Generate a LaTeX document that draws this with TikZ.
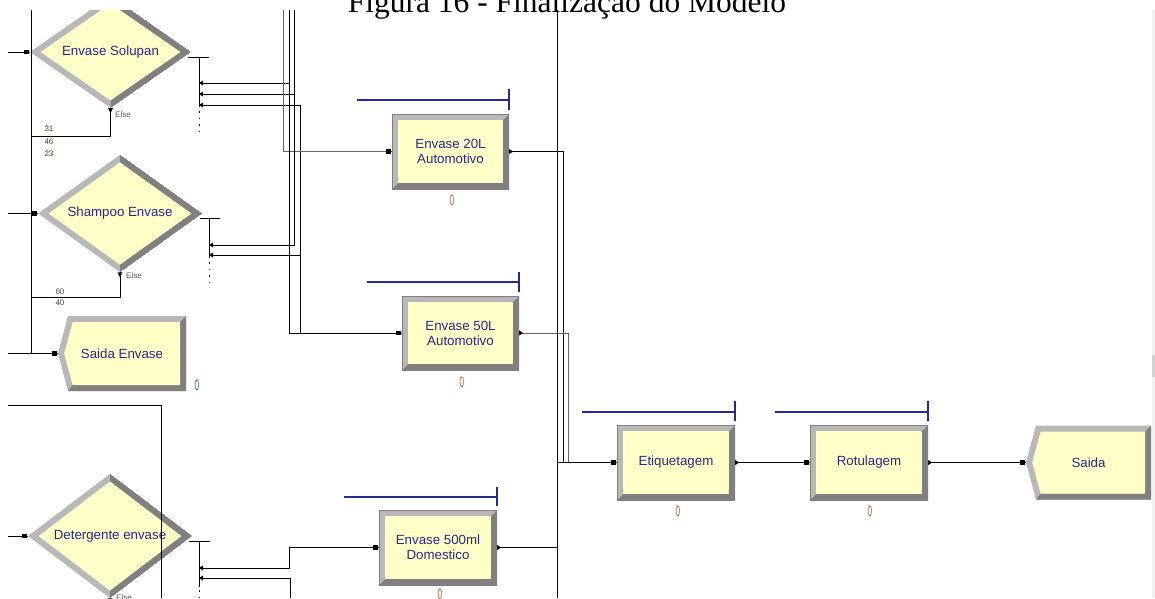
\documentclass[tikz,border=0pt]{standalone}
\usepackage{fontspec}
\setmainfont{Liberation Sans}
\newfontfamily\capfont{Liberation Serif}
\usetikzlibrary{shapes.geometric,calc}
\definecolor{boxfill}{RGB}{255,255,200}
\definecolor{bevlight}{RGB}{184,184,184}
\definecolor{bevdark}{RGB}{128,128,128}
\definecolor{labelblue}{RGB}{40,40,140}
\definecolor{queueblue}{RGB}{40,40,150}
\definecolor{cntorange}{RGB}{210,90,40}
\definecolor{cntblue}{RGB}{40,90,255}
\definecolor{wiregray}{RGB}{100,100,100}
\definecolor{smallgray}{RGB}{90,90,90}
\definecolor{numbrown}{RGB}{90,70,50}
\newcommand\arinmark[1]{\fill ([xshift=-5.5pt,yshift=-2.2pt]#1) rectangle ([xshift=-1pt,yshift=2.2pt]#1);}
\newcommand\aroutmark[1]{\fill ([yshift=2.5pt]#1) -- ([xshift=4pt]#1) -- ([yshift=-2.5pt]#1) -- cycle;}
\newcommand\arexitmark[1]{\fill ([xshift=4pt,yshift=2.5pt]#1) -- (#1) -- ([xshift=4pt,yshift=-2.5pt]#1) -- cycle;}
\tikzset{
  modlabel/.style={font=\fontsize{13.3}{15}\selectfont, text=labelblue, align=center},
  procbox/.style={rectangle, inner sep=0pt, modlabel, path picture={
    \coordinate (ppsw) at (path picture bounding box.south west);
    \coordinate (ppne) at (path picture bounding box.north east);
    \coordinate (ppnw) at (path picture bounding box.north west);
    \fill[bevdark] (ppsw) rectangle (ppne);
    \fill[bevlight] (ppsw) -- (ppnw) -- (ppne) -- ([shift={(-6pt,-6pt)}]ppne) -- ([shift={(6pt,-6pt)}]ppnw) -- ([shift={(6pt,6pt)}]ppsw) -- cycle;
    \fill[boxfill] ([shift={(6pt,6pt)}]ppsw) rectangle ([shift={(-6pt,-6pt)}]ppne);
    \draw[bevdark, line width=1.2pt] (ppsw) rectangle (ppne);
  }},
  decidebox/.style={diamond, inner sep=0pt, modlabel, path picture={
    \coordinate (ppn) at (path picture bounding box.north);
    \coordinate (pps) at (path picture bounding box.south);
    \coordinate (ppe) at (path picture bounding box.east);
    \coordinate (ppw) at (path picture bounding box.west);
    \fill[bevlight] (ppn) -- (ppe) -- (pps) -- (ppw) -- cycle;
    \fill[bevdark] (ppn) -- (ppe) -- (pps) -- cycle;
    \fill[boxfill] ([yshift=-7.5pt]ppn) -- ([xshift=-10.5pt]ppe) -- ([yshift=7.5pt]pps) -- ([xshift=10.5pt]ppw) -- cycle;
  }},
  disposebox/.style={rectangle, inner sep=0pt, modlabel, path picture={
    \coordinate (ppsw) at (path picture bounding box.south west);
    \coordinate (ppse) at (path picture bounding box.south east);
    \coordinate (ppne) at (path picture bounding box.north east);
    \coordinate (ppnw) at (path picture bounding box.north west);
    \coordinate (ppw) at (path picture bounding box.west);
    \fill[bevlight] ([xshift=10pt]ppnw) -- (ppne) -- (ppse) -- ([xshift=10pt]ppsw) -- (ppw) -- cycle;
    \fill[bevdark] (ppne) -- (ppse) -- ([xshift=10pt]ppsw) -- ([shift={(14.6pt,6pt)}]ppsw) -- ([shift={(-6pt,6pt)}]ppse) -- ([shift={(-6pt,-6pt)}]ppne) -- cycle;
    \fill[boxfill] ([shift={(14.6pt,-6pt)}]ppnw) -- ([shift={(-6pt,-6pt)}]ppne) -- ([shift={(-6pt,6pt)}]ppse) -- ([shift={(14.6pt,6pt)}]ppsw) -- ([xshift=6.2pt]ppw) -- cycle;
  }},
  wire/.style={line width=0.9pt, black},
  wireg/.style={line width=0.9pt, wiregray},
  dotwire/.style={line width=0.9pt, black, dash pattern=on 1.5pt off 5pt},
  queue/.style={line width=1.1pt, queueblue},
  counter/.style={font=\fontsize{15}{15}\selectfont, text=cntorange, inner sep=0pt},
  smalltxt/.style={font=\fontsize{8}{8}\selectfont, inner sep=0pt},
}
\begin{document}
\begin{tikzpicture}[x=1pt,y=-1pt]
\useasboundingbox (0,0) rectangle (1155,598);
\fill[white] (0,0) rectangle (1155,598);
\begin{scope}
\clip (0,10) rectangle (1155,598);
% modules
\node[decidebox, minimum width=161pt, minimum height=112pt] (sol) at (110.5,52) {Envase Solupan};
\node[decidebox, minimum width=164pt, minimum height=113pt] (sha) at (120,213.5) {Shampoo Envase};
\node[decidebox, minimum width=164pt, minimum height=114pt] (det) at (110,536) {Detergente envase};
\node[disposebox, minimum width=128pt, minimum height=75pt] (senv) at (122,353.5) {Saida Envase};
\node[procbox, minimum width=117pt, minimum height=75pt] (en20) at (450.5,151.5) {Envase 20L\\Automotivo};
\node[procbox, minimum width=117pt, minimum height=74pt] (en50) at (460.5,333) {Envase 50L\\Automotivo};
\node[procbox, minimum width=118pt, minimum height=75pt] (en500) at (438,547.5) {Envase 500ml\\Domestico};
\node[procbox, minimum width=118pt, minimum height=75pt] (et) at (676,462.5) {Etiquetagem};
\node[procbox, minimum width=118pt, minimum height=75pt] (rot) at (869,462.5) {Rotulagem};
\node[disposebox, minimum width=125pt, minimum height=74pt] (saida) at (1088.5,462.5) {Saida};
% exit points of decide modules
\coordinate (sx1) at (199,83);
\coordinate (sx2) at (199,94);
\coordinate (sx3) at (199,105);
\coordinate (hx1) at (209,245);
\coordinate (hx2) at (209,255);
\coordinate (dx1) at (199,568);
\coordinate (dx2) at (199,578);
% left bus
\draw[wire] (8,52) -- (sol.west);
\draw[wire] (31,10) -- (31,353.5);
\draw[wire] (8,353.5) -- (senv.west);
\draw[wire] (sol.south) |- (31,136);
\draw[wire] (8,213.5) -- (sha.west);
\draw[wire] (sha.south) |- (31,297);
% Solupan exits
\draw[wire] (188,57) -- (209,57);
\draw[wire] (199,57) -- (199,107);
\draw[dotwire] (199,111) -- (199,135);
\draw[wire] (sx1) -- (289,83);
\draw[wire] (sx2) -- (294,94);
\draw[wire] (sx3) -- (300,105) -- (300,333);
% bundle from above
\draw[wireg] (283,10) -- (283,151.5) -- (en20.west);
\draw[wire] (289,10) -- (289,333) -- (en50.west);
\draw[wire] (294,10) -- (294,245) -- (hx1);
% Shampoo exits
\draw[wire] (200,218) -- (220,218);
\draw[wire] (209,218) -- (209,258);
\draw[dotwire] (209,262) -- (209,285);
\draw[wire] (hx2) -- (300,255);
% to Etiquetagem
\draw[wire] (en20.east) -- (563,151.5) -- (563,462.5);
\draw[wireg] (en50.east) -- (568,333) -- (568,462.5);
\draw[wire] (557,10) -- (557,598);
\draw[wire] (557,462.5) -- (et.west);
\draw[wire] (en500.east) -- (557,547.5);
% Detergente
\draw[wire] (8,536) -- (det.west);
\draw[wire] (8,405) -- (161,405) -- (161,598);
\draw[wire] (189,541) -- (210,541);
\draw[wire] (199,541) -- (199,587);
\draw[dotwire] (199,590) -- (199,598);
\draw[wire] (dx1) -- (289,568) -- (289,547.5) -- (en500.west);
\draw[wire] (dx2) -- (290,578) -- (290,598);
% final line
\draw[wire] (et.east) -- (rot.west);
\draw[wire] (rot.east) -- (saida.west);
% markers
\arinmark{sol.west}
\arinmark{sha.west}
\arinmark{det.west}
\arinmark{senv.west}
\arinmark{en20.west}
\arinmark{en50.west}
\arinmark{en500.west}
\arinmark{et.west}
\arinmark{rot.west}
\arinmark{saida.west}
\aroutmark{en20.east}
\aroutmark{en50.east}
\aroutmark{en500.east}
\aroutmark{et.east}
\aroutmark{rot.east}
\arexitmark{sx1}
\arexitmark{sx2}
\arexitmark{sx3}
\arexitmark{hx1}
\arexitmark{hx2}
\arexitmark{dx1}
\arexitmark{dx2}
\fill ([xshift=-2.5pt]sol.south) -- ([xshift=2.5pt]sol.south) -- ([yshift=-5pt]sol.south) -- cycle;
\fill ([xshift=-2.5pt]sha.south) -- ([xshift=2.5pt]sha.south) -- ([yshift=-5pt]sha.south) -- cycle;
\fill ([xshift=-2.5pt]det.south) -- ([xshift=2.5pt]det.south) -- ([yshift=-5pt]det.south) -- cycle;
% queues
\draw[queue] (357,100) -- (509,100) (509,89) -- (509,110);
\draw[queue] (367,282) -- (519,282) (519,272) -- (519,292);
\draw[queue] (344,497) -- (497,497) (497,487) -- (497,506);
\draw[queue] (582,412) -- (735,412) (735,401) -- (735,421);
\draw[queue] (775,412) -- (928,412) (928,401) -- (928,421);
% counters
\node[counter] (c20) at (452,200) {\scalebox{0.55}[1]{0}};
\node[counter] (c50) at (462,382) {\scalebox{0.55}[1]{0}};
\node[counter] (c500) at (440,594) {\scalebox{0.55}[1]{0}};
\node[counter] (cet) at (678,511) {\scalebox{0.55}[1]{0}};
\node[counter] (crot) at (870,511) {\scalebox{0.55}[1]{0}};
\node[counter, text=cntblue] (csenv) at (197,385) {\scalebox{0.55}[1]{0}};
% small labels
\node[smalltxt, text=smallgray] (else1) at (123,115) {Else};
\node[smalltxt, text=numbrown] (n31) at (49,129) {31};
\node[smalltxt, text=numbrown] (n46) at (49,142) {46};
\node[smalltxt, text=numbrown] (n23) at (49,154) {23};
\node[smalltxt, text=smallgray] (else2) at (134,276) {Else};
\node[smalltxt, text=numbrown] (n60) at (60,292) {60};
\node[smalltxt, text=numbrown] (n40) at (60,303) {40};
\node[smalltxt, text=smallgray] (else3) at (124,598) {Else};
% scrollbar
\fill[gray!12] (1152,10) rectangle (1155,598);
\fill[gray!35] (1152,355) rectangle (1155,377);
\end{scope}
\node[font=\capfont\fontsize{31.5}{31.5}\selectfont, anchor=base, inner sep=0pt] (cap) at (567,12) {Figura 16 - Finalização do Modelo};
\end{tikzpicture}
\end{document}
